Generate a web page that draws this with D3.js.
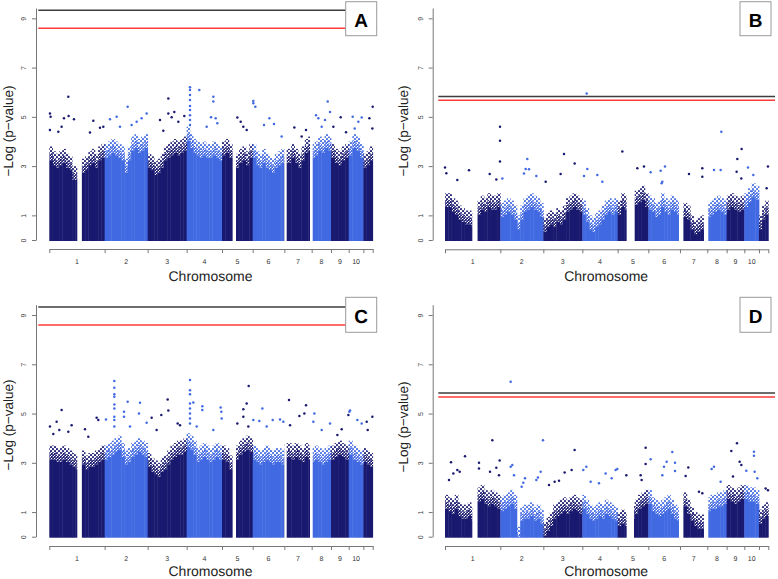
<!DOCTYPE html>
<html><head><meta charset="utf-8">
<script src="https://cdn.jsdelivr.net/npm/d3@7"></script>
<style>body{margin:0;background:#fff}svg{display:block;font-family:"Liberation Sans",Arial,sans-serif}text{text-rendering:geometricPrecision}</style>
</head><body><svg id="c" width="778" height="579"></svg>
<script>
// ---- data ----
const chromosomes = ["1","2","3","4","5","6","7","8","9","10",""];
const chrLengths = [166,129,117,106,92,95,82,58,53,44,28]; // marker-index units
const yTicks = [0,1,3,5,7,9];
const panelLabels = ["A","B","C","D"];
const thresholdsAC = [9.33, 8.6];   // [black, red]
const thresholdsBD = [5.83, 5.67];
const gapsAC = [[84,94],[552,560],[705,712],[782,790]];
const gapsBD = [[82,92],[545,567],[702,714],[777,790]];

// upper edge of the dense point cloud, per chromosome bin
const envA = [
 [3.8,3.6,3.5,3.6,3.7,3.5,3.4,3.0,3.0,null,3.3,3.4,3.6,3.7,3.5,3.8,3.9],
 [3.9,4.0,4.1,4.0,3.9,3.8,3.3,3.8,4.2,4.3,4.1,4.2,4.3],
 [3.5,3.4,3.2,3.3,3.5,3.8,3.9,4.0,4.1,4.0,4.1,4.2],
 [4.6,4.3,4.1,4.0,3.9,4.0,3.9,3.9,4.0,3.9,3.8],
 [4.0,4.1,3.9,null,3.5,3.7,3.8,3.6,3.9],
 [3.9,3.6,3.5,3.7,3.5,3.4,3.3,3.5,3.6,3.7],
 [3.7,3.7,3.9,3.7,3.5,3.8,4.1,4.2],
 [3.9,4.0,4.2,4.1,4.3,4.2],
 [3.9,3.7,3.6,3.8,3.9],
 [4.0,4.3,4.2,3.9],
 [3.5,3.6,3.8]
];
const envB = [
 [1.9,1.9,1.7,1.6,1.4,1.3,1.2,1.2,1.1,null,1.6,1.8,1.7,1.9,1.8,1.8,1.9],
 [1.5,1.6,1.7,1.6,1.4,1.0,1.4,1.7,1.8,1.9,1.8,1.7,1.5],
 [0.9,1.1,1.2,1.1,1.3,1.2,1.4,1.7,1.8,1.9,1.8,1.7],
 [1.6,1.3,1.0,0.9,1.1,1.2,1.4,1.6,1.7,1.6,1.7],
 [1.6,1.9,1.8,null,null,2.0,2.1,2.2,1.9],
 [1.8,1.7,1.5,1.6,1.9,1.7,1.6,1.8,1.7,1.6],
 [null,1.5,1.4,1.0,0.8,0.9,1.0,null],
 [1.5,1.6,1.7,1.8,1.7,1.6],
 [1.8,1.9,1.8,1.7,1.8],
 [1.9,2.1,2.3,2.2],
 [1.0,1.4,1.6]
];
const envC = [
 [3.7,3.7,3.6,3.6,3.7,3.6,3.5,3.4,3.3,null,3.5,3.3,3.4,3.4,3.5,3.6,3.7],
 [3.7,3.8,3.9,4.0,4.1,3.8,3.5,3.6,3.8,3.9,4.0,3.9,3.8],
 [3.4,3.2,3.1,3.0,3.2,3.3,3.5,3.7,3.8,3.9,3.9,4.0],
 [4.2,4.1,3.9,3.6,3.7,3.8,3.7,3.6,3.7,3.8,3.7],
 [3.7,3.6,3.3,null,3.7,3.9,4.0,4.1,4.0],
 [3.7,3.6,3.5,3.6,3.7,3.6,3.5,3.6,3.6,3.5],
 [3.8,3.8,3.7,3.8,3.7,3.6,3.8,3.7],
 [3.6,3.7,3.6,3.5,3.6,3.7],
 [3.7,3.8,3.9,3.8,3.7],
 [3.9,3.7,3.6,3.5],
 [3.6,3.5,3.4]
];
const envD = [
 [1.7,1.6,1.5,1.7,1.4,1.3,1.3,1.4,1.2,null,2.0,2.1,1.9,1.8,1.9,1.8,1.7],
 [1.6,1.7,1.8,1.9,1.7,0.4,1.2,1.3,1.3,1.4,1.2,1.3,1.1],
 [0.6,0.8,1.0,1.3,1.4,1.5,1.6,1.5,1.6,1.7,1.6,1.5],
 [1.7,1.5,1.3,1.2,1.3,1.4,1.3,1.5,1.4,1.3,1.2],
 [1.0,1.1,1.0,null,1.3,1.5,1.7,1.8,1.9],
 [1.9,1.6,1.5,1.4,1.5,1.6,1.7,1.5,1.3,1.2],
 [null,1.8,1.5,1.2,1.0,0.9,0.9,null],
 [1.6,1.7,1.7,1.8,1.8,1.9],
 [2.1,2.0,1.9,2.0,2.1],
 [2.1,2.0,2.0,1.9],
 [1.1,1.3,1.4]
];

// individual markers above the dense cloud: [position, -log10 p]
const hitsA = [[2,5.14],[4,5.0],[2,4.47],[57,5.82],[44,4.94],[58,5.03],[74,4.9],[27,4.4],[37,4.6],[132,4.84],[122,4.36],[152,4.56],[162,4.6],
 [235,5.41],[202,5.0],[182,4.9],[262,4.8],[292,5.14],[277,4.94],[212,4.6],[247,4.67],
 [357,5.75],[357,5.14],[375,5.2],[405,5.03],[332,4.87],[387,4.8],[367,4.98],[342,4.44],
 [422,6.2],[422,6.09],[422,5.89],[422,5.68],[422,5.44],[422,5.28],[422,5.07],[422,4.87],[422,4.67],[450,6.09],[492,5.82],[492,5.62],[485,4.98],[499,4.94],[472,4.6],[504,4.74],
 [564,4.97],[574,4.8],[582,4.6],[612,5.64],[612,5.55],[618,5.41],[592,4.47],
 [644,4.67],[660,4.94],[674,4.71],[697,4.2],
 [735,4.57],[770,4.47],[757,4.2],
 [835,5.62],[800,5.07],[842,5.2],[817,4.6],[827,4.87],[807,4.94],
 [874,4.98],[890,4.37],[852,4.6],
 [910,5.0],[937,4.97],[916,4.53],[927,4.8],
 [970,5.41],[960,4.94],[969,4.53]];
const hitsB = [[425,5.95],[165,4.6],[165,4.03],[165,3.19],[0,2.94],[4,2.71],[37,2.44],[72,2.83],[134,2.68],[154,2.46],[172,2.5],
 [247,3.29],[242,2.88],[252,2.87],[274,2.6],[237,2.7],[302,2.37],
 [357,3.49],[389,3.11],[347,2.68],[417,2.6],[427,2.88],[457,2.64],[472,2.37],
 [532,3.59],[577,2.91],[597,2.98],[617,2.75],[647,2.81],[660,2.98],[652,2.37],[650,2.3],
 [732,2.68],[772,2.91],[772,2.57],[807,2.84],[829,4.4],[827,2.84],[877,3.29],[890,3.69],[875,2.77],[889,2.5],[909,2.94],[925,2.64],[969,2.98],[965,2.1]];
const hitsC = [[37,5.14],[22,4.67],[2,4.47],[67,4.53],[12,4.17],[30,4.33],[57,4.26],[107,4.36],[142,4.83],[147,4.74],[117,4.06],
 [195,6.32],[195,6.05],[195,5.78],[195,5.68],[195,5.37],[195,5.21],[195,4.87],[195,4.74],[195,4.47],[235,5.48],[224,5.07],[224,4.87],[272,5.44],[269,5.0],[170,4.76],[292,4.63],[242,4.47],
 [355,5.57],[357,5.12],[336,4.94],[307,4.83],[385,4.6],[392,4.53],[322,4.33],
 [422,6.36],[422,5.95],[422,5.78],[422,5.41],[422,5.21],[422,5.0],[422,4.8],[422,4.6],[432,5.45],[459,5.3],[459,5.14],[514,5.25],[516,5.07],[517,4.8],[442,4.47],[492,4.33],
 [598,6.12],[592,5.41],[582,5.17],[597,4.47],[582,4.87],[612,4.74],[564,4.6],
 [639,5.21],[630,4.7],[670,4.74],[692,4.76],[702,4.67],[652,4.47],
 [719,5.55],[770,5.34],[765,5.0],[750,4.9],[722,4.53],
 [795,5.0],[792,4.67],[817,4.33],[842,4.6],
 [877,4.36],[897,4.94],[900,5.07],[864,4.13],
 [902,5.12],[924,4.74],[937,4.6],
 [969,4.87],[952,4.67],[955,4.33]];
const hitsD = [[197,6.29],[60,3.27],[18,3.02],[25,2.57],[37,2.71],[44,2.64],[12,2.3],[102,3.0],[102,2.77],[142,3.92],[135,2.64],[154,2.8],[164,3.09],[162,2.5],
 [202,2.91],[197,2.84],[207,2.5],[235,2.19],[240,2.37],[279,2.4],[287,2.64],[274,2.3],[230,2.03],
 [294,3.92],[389,3.52],[359,2.61],[380,2.71],[329,2.23],[342,2.27],[312,2.1],[415,2.71],
 [424,2.84],[482,2.57],[512,2.71],[517,2.75],[500,2.37],[437,2.23],[462,2.17],
 [602,3.61],[602,2.95],[617,3.14],[587,2.5],[544,2.5],[590,2.3],
 [682,3.44],[665,3.04],[690,3.0],[690,2.67],[657,2.84],[652,2.5],
 [730,2.81],[722,2.46],[762,1.83],[772,1.76],
 [807,2.84],[800,2.75],[827,2.23],
 [876,3.79],[859,3.48],[884,3.04],[889,2.91],[864,2.44],
 [927,3.45],[927,3.29],[904,2.68],[929,2.64],[937,2.37],
 [962,1.96],[969,1.89]];

// ---- drawing ----
const colors = ["#191970","#4169e1"];
const starts = [0, ...d3.cumsum(chrLengths)];
const total = starts[starts.length-1];
const chrOf = p => Math.max(0, Math.min(chrLengths.length-1, d3.bisectRight(starts, p) - 1));
const svg = d3.select("#c");
const unit = 24.63;

// dotted textures for the thinning upper edge of each cloud
const defs = svg.append("defs");
colors.forEach((col, ci) => {
  const dense = defs.append("pattern").attr("id", "dense" + ci).attr("patternUnits", "userSpaceOnUse")
    .attr("width", 3).attr("height", 3);
  dense.append("circle").attr("cx", 0.8).attr("cy", 0.8).attr("r", 1.1).attr("fill", col);
  dense.append("circle").attr("cx", 2.3).attr("cy", 2.3).attr("r", 1.1).attr("fill", col);
  const sparse = defs.append("pattern").attr("id", "sparse" + ci).attr("patternUnits", "userSpaceOnUse")
    .attr("width", 4).attr("height", 4);
  sparse.append("circle").attr("cx", 1).attr("cy", 1.1).attr("r", 1.05).attr("fill", col);
  sparse.append("circle").attr("cx", 3).attr("cy", 3.1).attr("r", 1.05).attr("fill", col);
});

const layouts = [
 {axisX:36,   x0:49.3, x1:372.7, yBase:240,   xAxisY:249,   lx0:38.3,  lx1:377, box:[345.7,1.7,31,34],   tx:12.5, ty:131},
 {axisX:432.7,x0:445,  x1:768.3, yBase:240,   xAxisY:249.3, lx0:438.3, lx1:775, box:[740,1.7,31,34],     tx:408,  ty:131},
 {axisX:36,   x0:49.3, x1:372.7, yBase:536.7, xAxisY:546,   lx0:38.3,  lx1:377, box:[345.7,297.3,31,35], tx:12.5, ty:425},
 {axisX:432.7,x0:445,  x1:768.3, yBase:536.7, xAxisY:546,   lx0:438.3, lx1:775, box:[740,297.3,31,35],   tx:408,  ty:427}
];
const panels = [
 {env:envA, hits:hitsA, gaps:gapsAC, thr:thresholdsAC},
 {env:envB, hits:hitsB, gaps:gapsBD, thr:thresholdsBD},
 {env:envC, hits:hitsC, gaps:gapsAC, thr:thresholdsAC},
 {env:envD, hits:hitsD, gaps:gapsBD, thr:thresholdsBD}
];

panels.forEach((p, k) => {
  const L = layouts[k];
  const g = svg.append("g");
  const xs = d3.scaleLinear().domain([0,total]).range([L.x0, L.x1]);
  const yMax = 9.42;
  const ys = d3.scaleLinear().domain([0,yMax]).range([L.yBase, L.yBase - yMax*unit]);
  const fringe = 0.28; // texture band depth in -log10 p units

  const bins = [];
  p.env.forEach((arr, c) => {
    const w = chrLengths[c] / arr.length;
    arr.forEach((v, i) => { if (v != null) bins.push({c, s: starts[c] + i*w, e: starts[c] + (i+1)*w, v}); });
  });
  const bx = d => xs(d.s), bw = d => xs(d.e) - xs(d.s) + 0.4;
  const lo = d => Math.max(0, d.v - 2*fringe);
  g.selectAll("rect.core").data(bins).join("rect").attr("class", "core")
    .attr("x", bx).attr("width", bw)
    .attr("y", d => ys(lo(d))).attr("height", d => ys(0) - ys(lo(d)) + 1)
    .attr("fill", d => colors[d.c % 2]);
  g.selectAll("rect.mid").data(bins).join("rect").attr("class", "mid")
    .attr("x", bx).attr("width", bw)
    .attr("y", d => ys(d.v - fringe)).attr("height", d => ys(lo(d)) - ys(d.v - fringe))
    .attr("fill", d => `url(#dense${d.c % 2})`);
  g.selectAll("rect.top").data(bins).join("rect").attr("class", "top")
    .attr("x", bx).attr("width", bw)
    .attr("y", d => ys(d.v)).attr("height", d => ys(d.v - fringe) - ys(d.v))
    .attr("fill", d => `url(#sparse${d.c % 2})`);
  // regions without markers
  g.selectAll("rect.gap").data(p.gaps).join("rect").attr("class", "gap")
    .attr("x", d => xs(d[0])).attr("width", d => xs(d[1]) - xs(d[0]))
    .attr("y", ys(yMax)).attr("height", ys(0) - ys(yMax) + 2)
    .attr("fill", "#fff");
  // individual markers
  g.selectAll("circle").data(p.hits).join("circle")
    .attr("cx", d => xs(d[0])).attr("cy", d => ys(d[1])).attr("r", 1.25)
    .attr("fill", d => colors[chrOf(d[0]) % 2]);
  // thresholds
  g.append("line").attr("x1", L.lx0).attr("x2", L.lx1).attr("y1", ys(p.thr[0])).attr("y2", ys(p.thr[0]))
    .attr("stroke", "#3c3c3c").attr("stroke-width", 1.5);
  g.append("line").attr("x1", L.lx0).attr("x2", L.lx1).attr("y1", ys(p.thr[1])).attr("y2", ys(p.thr[1]))
    .attr("stroke", "#ff3a3a").attr("stroke-width", 1.5);
  // label box
  const b = L.box;
  g.append("rect").attr("x", b[0]).attr("y", b[1]).attr("width", b[2]).attr("height", b[3])
    .attr("fill", "#fff").attr("stroke", "#9a9a9a").attr("stroke-width", 1);
  g.append("text").attr("x", b[0] + b[2]/2).attr("y", b[1] + 25.3).attr("text-anchor", "middle")
    .attr("font-size", 19).attr("font-weight", "bold").attr("fill", "#000").text(panelLabels[k]);

  // y axis
  const ya = g.append("g").attr("transform", `translate(${L.axisX},0)`)
    .call(d3.axisLeft(ys).tickValues(yTicks).tickSize(4).tickSizeOuter(0).tickFormat(d3.format("d")));
  ya.selectAll("path,line").attr("stroke", "#777");
  ya.selectAll("text").attr("x", null).attr("dy", "0.35em").attr("text-anchor", "middle")
    .attr("transform", "translate(-12,0) rotate(-90)").attr("font-size", 7).attr("fill", "#333")
    .attr("font-family", '"Liberation Sans",Arial,sans-serif');

  // x axis
  const xa = g.append("g").attr("transform", `translate(0,${L.xAxisY})`)
    .call(d3.axisBottom(xs).tickValues(starts).tickSize(4).tickSizeOuter(0).tickFormat(""));
  xa.selectAll("path,line").attr("stroke", "#777");
  g.selectAll("text.chr").data(chromosomes).join("text").attr("class", "chr")
    .attr("x", (d, i) => xs(starts[i] + chrLengths[i]/2)).attr("y", L.xAxisY + 14.5)
    .attr("text-anchor", "middle").attr("font-size", 7).attr("fill", "#333").text(d => d);

  // titles
  g.append("text").attr("x", (L.x0 + L.x1)/2 - 0.5).attr("y", Math.min(L.xAxisY + 32, 575.5)).attr("text-anchor", "middle")
    .attr("font-size", 14).attr("fill", "#222").text("Chromosome");
  g.append("text").attr("transform", `translate(${L.tx},${L.ty}) rotate(-90)`).attr("text-anchor", "middle")
    .attr("font-size", 13.5).attr("fill", "#222").text("\u2212Log (p\u2212value)");
});
</script></body></html>
